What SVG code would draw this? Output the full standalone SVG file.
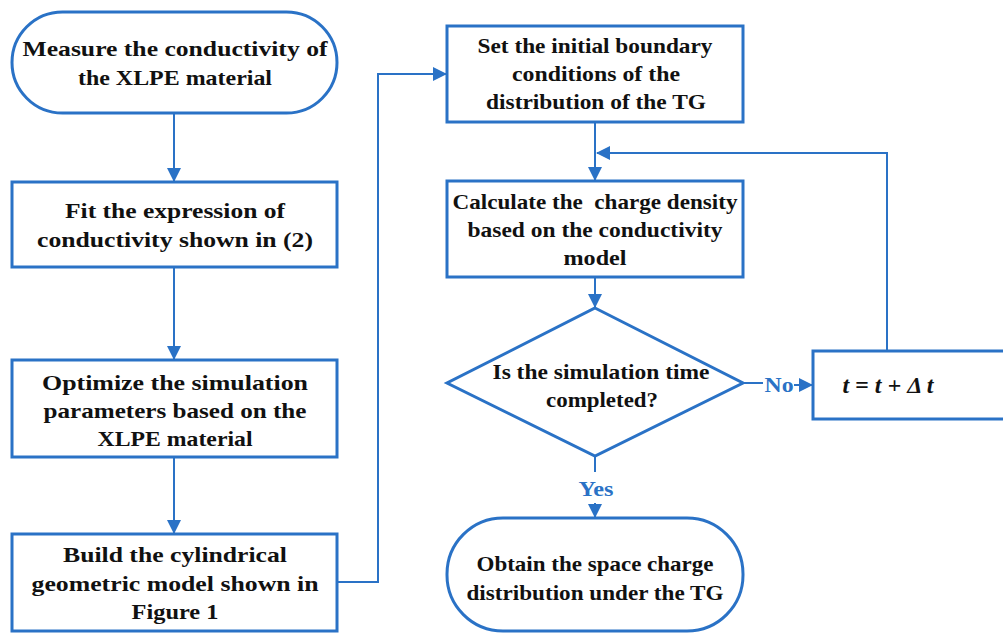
<svg xmlns="http://www.w3.org/2000/svg" width="1003" height="633" viewBox="0 0 1003 633">
<style>
.n{fill:#fff;stroke:#2A72C6;stroke-width:3}
.c{fill:none;stroke:#2A72C6;stroke-width:2}
.t{font-family:"Liberation Serif",serif;font-weight:bold;font-size:22px;fill:#111;text-anchor:middle}
.l{font-family:"Liberation Serif",serif;font-weight:bold;font-size:22px;fill:#2A72C6;text-anchor:middle}
</style>
<defs>
<marker id="ah" markerUnits="userSpaceOnUse" markerWidth="14" markerHeight="14" refX="13" refY="7" orient="auto">
<path d="M0,0 L14,7 L0,14 Z" fill="#2A72C6"/>
</marker>
</defs>
<rect width="1003" height="633" fill="#fff"/>
<g id="connectors">
<path class="c" d="M174,113 V181" marker-end="url(#ah)"/>
<path class="c" d="M174,267 V359" marker-end="url(#ah)"/>
<path class="c" d="M174,457 V533" marker-end="url(#ah)"/>
<path class="c" d="M337,582 H378 V74 H446" marker-end="url(#ah)"/>
<path class="c" d="M595,122 V180" marker-end="url(#ah)"/>
<path class="c" d="M887,351 V153 H597" marker-end="url(#ah)"/>
<path class="c" d="M595,277 V307" marker-end="url(#ah)"/>
<path class="c" d="M743,383 H763"/>
<path class="c" d="M794,385 H812" marker-end="url(#ah)"/>
<path class="c" d="M595,456 V472"/>
<path class="c" d="M595,503 V517" marker-end="url(#ah)"/>
<text class="l" x="779" y="392" textLength="29" lengthAdjust="spacingAndGlyphs">No</text>
<text class="l" x="596" y="496" textLength="35" lengthAdjust="spacingAndGlyphs">Yes</text>
</g>
<g id="n1">
<rect class="n" x="12" y="12" width="325" height="101" rx="50.5" ry="50.5"/>
<text class="t" x="175" y="56" textLength="305" lengthAdjust="spacingAndGlyphs">Measure the conductivity of</text>
<text class="t" x="175" y="85" textLength="194" lengthAdjust="spacingAndGlyphs">the XLPE material</text>
</g>
<g id="n2">
<rect class="n" x="12" y="182" width="325" height="85"/>
<text class="t" x="175" y="218" textLength="220" lengthAdjust="spacingAndGlyphs">Fit the expression of</text>
<text class="t" x="175" y="247" textLength="276" lengthAdjust="spacingAndGlyphs">conductivity shown in (2)</text>
</g>
<g id="n3">
<rect class="n" x="12" y="360" width="325" height="97"/>
<text class="t" x="175" y="390" textLength="266" lengthAdjust="spacingAndGlyphs">Optimize the simulation</text>
<text class="t" x="175" y="418" textLength="263" lengthAdjust="spacingAndGlyphs">parameters based on the</text>
<text class="t" x="175" y="446" textLength="155" lengthAdjust="spacingAndGlyphs">XLPE material</text>
</g>
<g id="n4">
<rect class="n" x="12" y="534" width="325" height="97"/>
<text class="t" x="175" y="562" textLength="224" lengthAdjust="spacingAndGlyphs">Build the cylindrical</text>
<text class="t" x="175" y="591" textLength="287" lengthAdjust="spacingAndGlyphs">geometric model shown in</text>
<text class="t" x="175" y="619" textLength="87" lengthAdjust="spacingAndGlyphs">Figure 1</text>
</g>
<g id="n5">
<rect class="n" x="447" y="26" width="296" height="96"/>
<text class="t" x="595" y="53" textLength="235" lengthAdjust="spacingAndGlyphs">Set the initial boundary</text>
<text class="t" x="596" y="81" textLength="168" lengthAdjust="spacingAndGlyphs">conditions of the</text>
<text class="t" x="596" y="109" textLength="220" lengthAdjust="spacingAndGlyphs">distribution of the TG</text>
</g>
<g id="n6">
<rect class="n" x="447" y="181" width="296" height="96"/>
<text class="t" x="595" y="209" textLength="285" lengthAdjust="spacingAndGlyphs" style="white-space:pre">Calculate the  charge density</text>
<text class="t" x="595" y="237" textLength="255" lengthAdjust="spacingAndGlyphs">based on the conductivity</text>
<text class="t" x="595" y="265" textLength="63" lengthAdjust="spacingAndGlyphs">model</text>
</g>
<g id="n7">
<polygon class="n" points="595,308 743,383 595,456 447,383"/>
<text class="t" x="601" y="379" textLength="217" lengthAdjust="spacingAndGlyphs">Is the simulation time</text>
<text class="t" x="602" y="407" textLength="112" lengthAdjust="spacingAndGlyphs">completed?</text>
</g>
<g id="n8">
<rect class="n" x="813" y="351" width="200" height="68"/>
<text class="t" x="888" y="393" style="font-size:24px;font-style:italic">t = t + Δ t</text>
</g>
<g id="n9">
<rect class="n" x="447" y="518" width="296" height="113" rx="56" ry="56"/>
<text class="t" x="595" y="571" textLength="237" lengthAdjust="spacingAndGlyphs">Obtain the space charge</text>
<text class="t" x="595" y="600" textLength="257" lengthAdjust="spacingAndGlyphs">distribution under the TG</text>
</g>
</svg>
